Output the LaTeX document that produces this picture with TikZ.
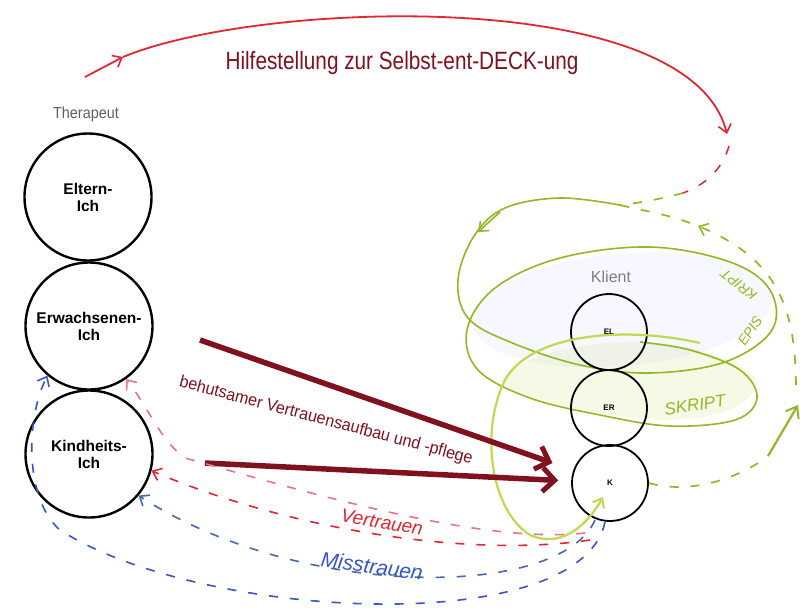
\documentclass[tikz,border=0pt]{standalone}
\usepackage{fontspec}
\setmainfont{Liberation Sans}
\usetikzlibrary{arrows.meta,calc}
\definecolor{maroon}{RGB}{128,18,32}
\definecolor{grn}{RGB}{145,185,35}
\definecolor{palegrn}{RGB}{195,215,80}
\definecolor{pinkred}{RGB}{235,115,135}
\definecolor{redd}{RGB}{228,38,48}
\definecolor{blued}{RGB}{55,85,205}
\definecolor{steel}{RGB}{70,105,170}
\definecolor{graytxt}{RGB}{95,95,110}
\definecolor{klgray}{RGB}{125,125,145}
\tikzset{
  ego/.style={circle, draw=black, line width=2.4pt, minimum size=127pt, inner sep=0pt,
    align=center, font=\bfseries\fontsize{15.5}{17}\selectfont},
  kego/.style={circle, draw=black, line width=1.8pt, minimum size=76pt, inner sep=0pt,
    font=\bfseries\fontsize{8}{9}\selectfont},
  bigarrow/.style={draw=maroon, line width=5.5pt, -{Straight Barb[length=12pt,width=24pt,line width=5pt]}},
  barb/.style={-{Straight Barb[length=8pt,width=13pt,line width=1.6pt]}},
  handred/.style={draw=redd, line width=1.8pt},
  handgrn/.style={draw=grn, line width=1.7pt},
  dsh/.style={dash pattern=on 9pt off 12pt},
  hand/.style={font=\itshape\fontsize{#1}{#1}\selectfont},
}
\begin{document}
\begin{tikzpicture}[x=1pt,y=-1pt]
\useasboundingbox[fill=white] (0,0) rectangle (800,614);

% faint fills of client region
\fill[blue!40!white, opacity=0.07] (622,310) ellipse [x radius=150, y radius=56, rotate=5];
\fill[palegrn, opacity=0.14] (500,380) .. controls (540,335) and (700,325) .. (755,378)
   .. controls (760,410) and (700,425) .. (640,418) .. controls (580,412) and (520,400) .. (500,380);

% title arc
\coordinate (rs) at (85,77);
\coordinate (rm) at (123,57);
\coordinate (rt) at (727,134);
\coordinate (rd1) at (729,146);
\coordinate (rd2) at (683,193);
\draw[handred, barb] (rs) -- (rm);
\draw[handred, barb] (rm) .. controls (260,0) and (690,-15) .. (rt);
\draw[handred, dsh, line width=1.5pt] (rd1) .. controls (722,170) and (705,185) .. (rd2);
\node[text=maroon, font=\fontsize{25}{27}\selectfont] (title) at (402,63)
   {\scalebox{0.83}[1]{Hilfestellung zur Selbst-ent-DECK-ung}};

% therapist
\node[text=graytxt, font=\fontsize{16}{18}\selectfont] (ther) at (86,114) {\scalebox{0.9}[1]{Therapeut}};
\node[ego] (EI) at (88,197) {Eltern-\\Ich};
\node[ego] (ErI) at (89,326) {Erwachsenen-\\Ich};
\node[ego] (KI) at (89,454) {Kindheits-\\Ich};

% client spiral (script loops)
\coordinate (sp0) at (620,205);
\draw[handgrn, dsh] (rd2) .. controls (665,198) and (640,203) .. (sp0);
\draw[handgrn, line width=1.6pt] plot[smooth, tension=0.6] coordinates {
  (620,205) (560,198) (505,208) (474,236) (458,280) (468,318) (510,342) (580,365) (650,373)
  (725,362) (772,330) (770,290) (730,262) (650,247) (560,258) (495,288) (467,330) (478,370)
  (530,398) (600,415) (670,426) (735,420) (757,398) (740,370) (690,350) (640,342)};
\draw[draw=grn, line width=1.6pt, barb] (500,212) -- (478,232);

% client ego states
\node[text=klgray, font=\fontsize{16}{18}\selectfont] (kl) at (611,277) {Klient};
\node[kego] (EL) at (609,332) {EL};
\node[kego] (ER) at (609,408) {ER};
\node[kego] (K) at (610,483) {K};

% pale SKRIPT loop into K
\coordinate (pl0) at (700,343);
\coordinate (pl1) at (603,497);
\draw[draw=palegrn, line width=2.2pt, -{Straight Barb[length=8pt,width=13pt,line width=2pt]}]
  (pl0) .. controls (620,325) and (530,335) .. (505,380)
  .. controls (480,430) and (490,510) .. (530,535)
  .. controls (565,550) and (590,520) .. (pl1);

\node[text=grn, hand=17, rotate=8] (skr) at (695,405) {SKRIPT};
\node[text=grn, hand=14, rotate=56, inner sep=0pt] (epi1) at (750,331) {EPIS};
\node[text=grn, hand=14, rotate=142, inner sep=0pt] (epi2) at (739,285) {KRIPT};

% green dashed return on the right
\coordinate (gr1) at (768,456);
\coordinate (gr2) at (798,405);
\coordinate (gr3) at (796,385);
\coordinate (ga) at (698,226);
\coordinate (ga2) at (690,223);
\draw[handgrn, dsh] (K.east) .. controls (690,495) and (740,478) .. (gr1);
\draw[handgrn, line width=2.2pt, -{Straight Barb[length=10pt,width=15pt,line width=2pt]}] (gr1) -- (gr2);
\draw[handgrn, dsh, barb] (gr3) .. controls (795,310) and (780,260) .. (ga);
\draw[handgrn, dsh] (ga2) .. controls (670,215) and (640,210) .. (sp0);

% trust arrows
\coordinate (a1) at (200,340);
\coordinate (a2) at (205,463);
\draw[bigarrow, shorten >=22pt] (a1) -- (K);
\draw[bigarrow, shorten >=13pt] (a2) -- (K);
\node[text=maroon, font=\fontsize{17}{19}\selectfont, rotate=-14.8] (lab) at (326,421)
  {\scalebox{0.95}[1]{behutsamer Vertrauensaufbau und -pflege}};

% Vertrauen (red) and pink dashed
\coordinate (kb1) at (585,533);
\coordinate (kb2) at (590,540);
\draw[draw=pinkred, line width=1.6pt, dsh, barb] (kb1) .. controls (480,545) and (300,490) .. (185,458)
   .. controls (160,440) and (150,410) .. (ErI.-55);
\draw[draw=redd, line width=1.6pt, dsh, barb] (kb2) .. controls (470,558) and (290,530) .. (KI.-15);
\node[text=redd, hand=19, rotate=-10] (vt) at (382,522) {Vertrauen};

% Misstrauen (blue)
\coordinate (kb3) at (595,520);
\coordinate (kb4) at (605,522);
\draw[draw=steel, line width=1.6pt, dsh, barb] (kb3) .. controls (560,600) and (300,600) .. (KI.-40);
\draw[draw=blued, line width=1.6pt, dsh, barb] (kb4) .. controls (580,640) and (200,620) .. (60,530)
   .. controls (25,500) and (25,420) .. (ErI.-130);
\node[text=blued, hand=21, rotate=-8] (ms) at (372,566) {Misstrauen};
\end{tikzpicture}
\end{document}
